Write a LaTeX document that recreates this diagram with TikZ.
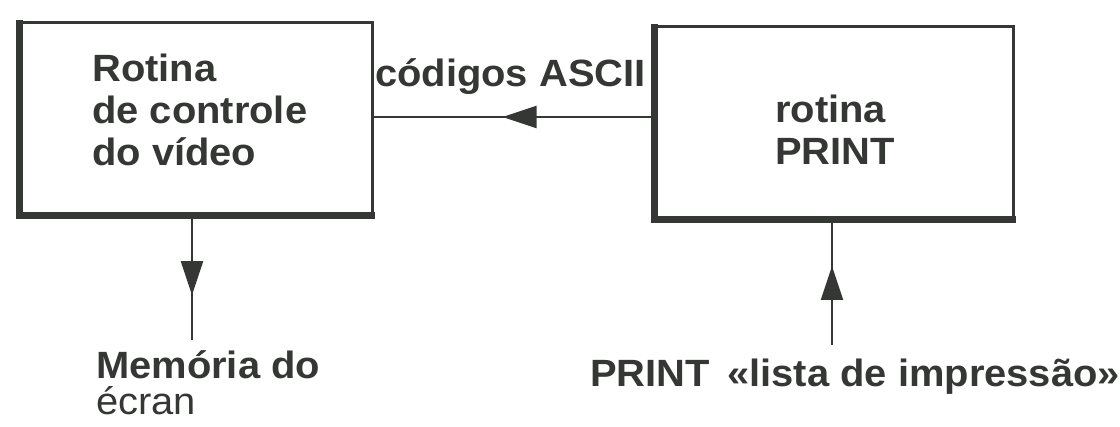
\documentclass[tikz,border=0pt]{standalone}
\usepackage{fontspec}
\setmainfont{Liberation Sans}[FakeStretch=1.05]
\usetikzlibrary{arrows.meta,decorations.markings}
\definecolor{ink}{HTML}{353735}
\tikzset{
  box/.style={draw=ink, line width=2.6pt, anchor=north west, inner sep=0pt},
  shadowline/.style={draw=ink, line width=7pt},
  lab/.style={text=ink, inner sep=0pt, font=\fontsize{38}{42}\selectfont\bfseries, align=left},
  conn/.style={draw=ink, line width=2.2pt},
  tipat/.style={postaction={decorate}, decoration={markings,
      mark=at position #1 with {\arrow{Triangle[length=34pt,width=22pt,fill=ink]}}}}
}
\begin{document}
\begin{tikzpicture}[x=1pt,y=-1pt]
\useasboundingbox (0,0) rectangle (1120,427);
% boxes
\node[box, minimum width=352pt, minimum height=192pt] (L) at (19,21) {};
\node[box, minimum width=358pt, minimum height=192pt] (R) at (654,25) {};
\draw[shadowline] ([yshift=1.3pt]L.north west) -- (L.south west) -- ([xshift=1.3pt]L.south east);
\draw[shadowline] ([yshift=1.3pt]R.north west) -- (R.south west) -- ([xshift=1.3pt]R.south east);
% box texts
\node[lab, anchor=north west] (Lt) at (92,54) {Rotina\\de controle\\do vídeo};
\node[lab, anchor=north west] (Rt) at (775,95) {rotina\\PRINT};
% horizontal connector
\coordinate (hy) at (0,117);
\path[conn, tipat=0.54] (R.west |- hy) -- (L.east |- hy);
\node[lab, anchor=base west] (ascii) at (375,87) {códigos ASCII};
% down connector
\coordinate (m) at (192,340);
\path[conn, tipat=0.64] (L.south -| m) -- (m);
\node[lab, anchor=north west] (mem) at (96,350) {Memória do\\[-6pt]\mdseries écran};
% up connector
\coordinate (p) at (832,345);
\path[conn, tipat=0.63] (p) -- (R.south -| p);
\node[lab, anchor=base west] (print) at (590,387) {PRINT \,«lista de impressão»};
\end{tikzpicture}
\end{document}
